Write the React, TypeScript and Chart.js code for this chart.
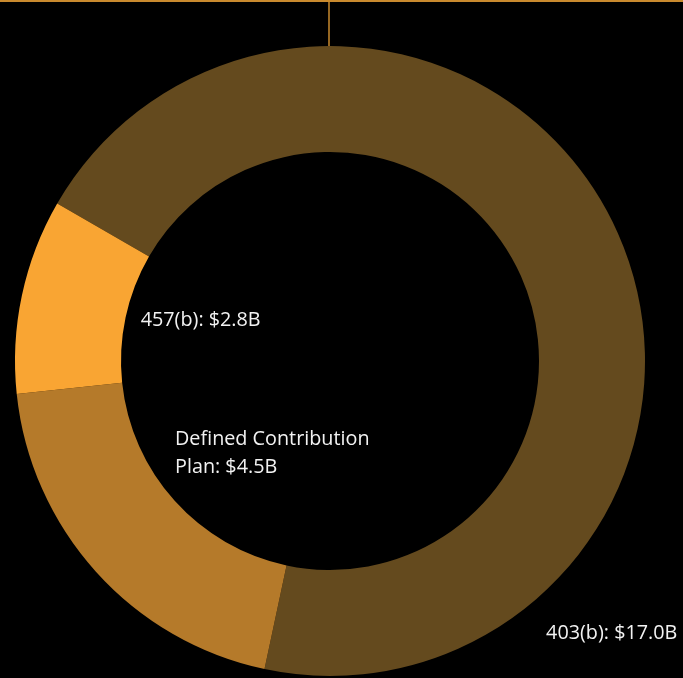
import React, { useEffect, useRef } from "react";
import { Chart, registerables } from "chart.js";

Chart.register(...registerables);

// Categories, in drawing order (clockwise from the start angle)
const categories = ["403(b)", "Defined Contribution Plan", "457(b)"];
// Displayed amounts (billions of dollars)
const amountLabels = ["$17.0B", "$4.5B", "$2.8B"];
// Slice shares (percent of the ring)
const sliceShares = [70, 20, 10];
const sliceColors = ["#644a1e", "#b57a2a", "#f9a533"];
// Label text lines
const labelLines = [
  ["403(b): $17.0B"],
  ["Defined Contribution", "Plan: $4.5B"],
  ["457(b): $2.8B"],
];
// Label anchor (left, first baseline) in units of outer radius from centre
const labelAnchors = [
  [0.686, 0.883],
  [-0.492, 0.268],
  [-0.601, -0.111],
];

const accent = "#c98a2e";

const decorPlugin = {
  id: "decor",
  beforeDatasetsDraw(chart: any) {
    const { ctx, width } = chart;
    const arc = chart.getDatasetMeta(0).data[0];
    if (!arc) return;
    ctx.save();
    ctx.strokeStyle = accent;
    ctx.lineWidth = 2;
    ctx.beginPath();
    ctx.moveTo(0, 1);
    ctx.lineTo(width, 1);
    ctx.stroke();
    ctx.lineWidth = 1.5;
    ctx.beginPath();
    ctx.moveTo(arc.x - 1, 0);
    ctx.lineTo(arc.x - 1, arc.y - arc.outerRadius);
    ctx.stroke();
    ctx.restore();
  },
  afterDatasetsDraw(chart: any) {
    const { ctx } = chart;
    const arc = chart.getDatasetMeta(0).data[0];
    if (!arc) return;
    const r = arc.outerRadius;
    ctx.save();
    ctx.fillStyle = "#f2f2f2";
    ctx.font = "19.8px 'Open Sans'";
    ctx.textAlign = "left";
    ctx.textBaseline = "alphabetic";
    labelLines.forEach((lines, i) => {
      const [ax, ay] = labelAnchors[i];
      const x = arc.x + ax * r;
      const y = arc.y + ay * r;
      lines.forEach((line, j) => {
        ctx.fillText(line, x, y + j * 28);
      });
    });
    ctx.restore();
  },
};

export default function App() {
  const ref = useRef<HTMLCanvasElement | null>(null);

  useEffect(() => {
    document.body.style.margin = "0";
    document.body.style.background = "#000";
    const canvas = ref.current;
    if (!canvas) return;
    const chart = new Chart(canvas, {
      type: "doughnut",
      data: {
        labels: categories.map((c, i) => `${c}: ${amountLabels[i]}`),
        datasets: [
          {
            data: sliceShares,
            backgroundColor: sliceColors,
            borderWidth: 0,
          },
        ],
      },
      options: {
        responsive: false,
        animation: false,
        rotation: -60,
        cutout: "66.35%",
        layout: { padding: { left: 15, right: 38, top: 46, bottom: 2 } },
        plugins: {
          legend: { display: false },
          tooltip: { enabled: false },
        },
      },
      plugins: [decorPlugin],
    });
    return () => chart.destroy();
  }, []);

  return (
    <div style={{ position: "fixed", left: 0, top: 0, width: 683, height: 678, background: "#000" }}>
      <canvas ref={ref} width={683} height={678} style={{ display: "block" }} />
    </div>
  );
}
